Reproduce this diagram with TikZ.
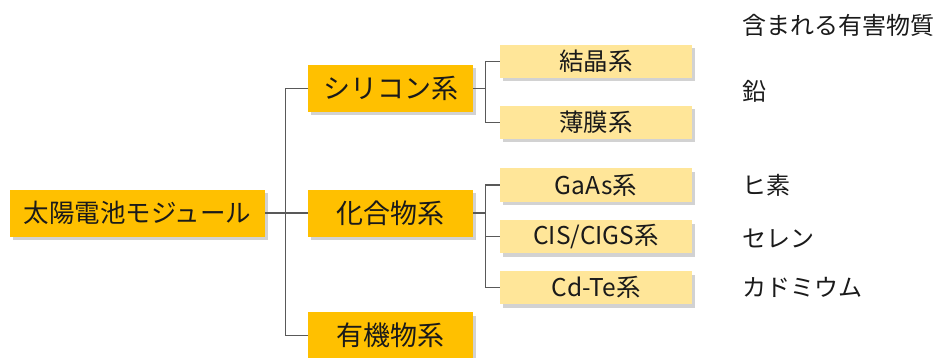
\documentclass[tikz,border=0pt]{standalone}
\usepackage{fontspec}
\setmainfont{Noto Sans CJK JP}
\usetikzlibrary{shadows}
\definecolor{gold}{HTML}{FFC000}
\definecolor{pale}{HTML}{FFE699}
\definecolor{linegray}{HTML}{595959}
\definecolor{txt}{HTML}{1A1A1A}
\tikzset{
  boxshadow/.style={drop shadow={shadow xshift=2.5pt, shadow yshift=-3.5pt, opacity=0.25, fill=black!70}},
  rootbox/.style={fill=gold, boxshadow, minimum width=255pt, minimum height=47pt, inner sep=0pt, text=txt, font=\fontsize{25.5pt}{28pt}\selectfont},
  midbox/.style={fill=gold, boxshadow, minimum width=165pt, minimum height=47pt, inner sep=0pt, text=txt, font=\fontsize{27pt}{30pt}\selectfont},
  leafbox/.style={fill=pale, boxshadow, minimum width=192pt, minimum height=33pt, inner sep=0pt, text=txt, font=\fontsize{24.5pt}{27pt}\selectfont},
  note/.style={anchor=west, inner sep=0pt, text=txt, font=\fontsize{24pt}{27pt}\selectfont},
  conn/.style={draw=linegray, line width=1.2pt}
}
\begin{document}
\begin{tikzpicture}[x=1pt,y=-1pt]
\useasboundingbox (0,0) rectangle (936,358);
\fill[white] (0,0) rectangle (936,358);
\node[rootbox] (root) at (137.5,213) {太陽電池モジュール};
\node[midbox] (si) at (390.5,88.5) {シリコン系};
\node[midbox] (comp) at (390.5,213) {化合物系};
\node[midbox] (org) at (390.5,335.5) {有機物系};
\node[leafbox] (kes) at (596,61.5) {結晶系};
\node[leafbox] (hak) at (596,122.5) {薄膜系};
\node[leafbox] (gaas) at (596,185) {GaAs系};
\node[leafbox] (cis) at (596,236.5) {CIS/CIGS系};
\node[leafbox] (cdte) at (596,287.5) {Cd-Te系};
\node[note] (head) at (742,25) {含まれる有害物質};
\node[note] (pb) at (742,91) {鉛};
\node[note] (as) at (742,185) {ヒ素};
\node[note] (se) at (742,238) {セレン};
\node[note] (cd) at (742,287) {カドミウム};
\draw[conn] (root.east) -- (comp.west);
\draw[conn] (si.west) -- ++(-22,0) coordinate (t1) |- (org.west);
\draw[conn] (si.east) -- ++(13,0);
\draw[conn] (kes.west) -- ++(-14,0) |- (hak.west);
\draw[conn] (comp.east) -- ++(13,0);
\draw[conn] (gaas.west) -- ++(-14,0) |- (cdte.west);
\draw[conn] (cis.west) -- ++(-14,0);
\end{tikzpicture}
\end{document}
